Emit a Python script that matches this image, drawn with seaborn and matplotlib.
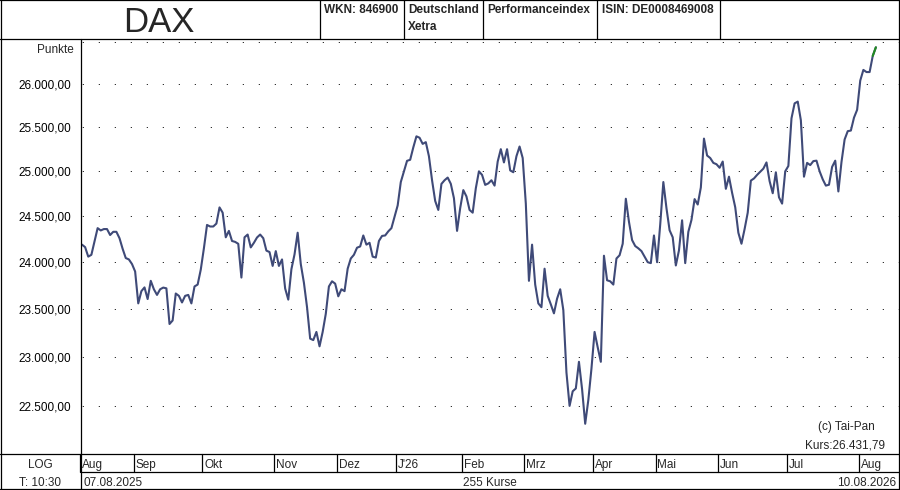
import numpy as np
import pandas as pd
import seaborn as sns
import matplotlib.pyplot as plt
from matplotlib.lines import Line2D
from matplotlib.ticker import FixedLocator, FuncFormatter, NullLocator, NullFormatter
from matplotlib.transforms import blended_transform_factory, offset_copy

# DAX Schlusskurse, 255 Handelstage (07.08.2025 - 10.08.2026)
kurse = [
    24190, 24163, 24060, 24080, 24225, 24370, 24345, 24360, 24360, 24295,
    24330, 24330, 24260, 24145, 24045, 24030, 23980, 23900, 23560, 23690,
    23730, 23606, 23800, 23710, 23650, 23710, 23728, 23720, 23343, 23380,
    23665, 23640, 23570, 23640, 23650, 23560, 23740, 23760, 23920, 24150,
    24405, 24388, 24388, 24420, 24598, 24540, 24270, 24340, 24230, 24220,
    24199, 23835, 24270, 24300, 24160, 24210, 24268, 24300, 24260, 24125,
    24110, 23960, 24120, 23960, 24030, 23718, 23600, 23925, 24085, 24320,
    23980, 23780, 23520, 23190, 23175, 23260, 23110, 23260, 23450, 23740,
    23795, 23770, 23635, 23710, 23690, 23930, 24040, 24080, 24157, 24170,
    24290, 24190, 24210, 24060, 24050, 24230, 24285, 24290, 24335, 24370,
    24495, 24620, 24880, 25000, 25118, 25130, 25270, 25396, 25380, 25310,
    25330, 25170, 24900, 24670, 24570, 24859, 24900, 24930, 24860, 24700,
    24340, 24590, 24790, 24720, 24570, 24540, 24810, 25000, 24960, 24848,
    24865, 24900, 24840, 25110, 25250, 25100, 25250, 25010, 24990, 25170,
    25280, 25150, 24640, 23800, 24190, 23760, 23560, 23520, 23930, 23640,
    23550, 23455, 23610, 23710, 23490, 22840, 22500, 22648, 22677, 22950,
    22670, 22320, 22560, 22880, 23260, 23100, 22950, 24070, 23806, 23795,
    23760, 24040, 24075, 24200, 24694, 24440, 24240, 24175, 24150, 24120,
    24060, 24000, 23990, 24290, 24000, 24410, 24880, 24590, 24347, 24270,
    23965, 24128, 24456, 23990, 24330, 24460, 24690, 24630, 24820, 25370,
    25178, 25150, 25095, 25080, 25040, 25110, 24804, 24940, 24760, 24600,
    24320, 24200, 24360, 24540, 24896, 24920, 24960, 24995, 25030, 25100,
    24890, 24755, 24989, 24710, 24640, 25000, 25060, 25602, 25775, 25795,
    25580, 24940, 25095, 25070, 25115, 25120, 25000, 24910, 24840, 24850,
    25050, 25120, 24775, 25105, 25360, 25455, 25462, 25610, 25700, 26040,
    26165, 26140, 26140, 26330, 26431.79,
]
feiertage = ["2025-12-24", "2025-12-25", "2025-12-26", "2025-12-31",
             "2026-01-01", "2026-04-03", "2026-04-06", "2026-05-01"]
monate = ["Aug", "Sep", "Okt", "Nov", "Dez", "J'26", "Feb", "Mrz",
          "Apr", "Mai", "Jun", "Jul", "Aug"]
y_ticks = [22500, 23000, 23500, 24000, 24500, 25000, 25500, 26000, 26500]

tage = pd.bdate_range("2025-08-07", "2026-08-10")
tage = tage[~tage.isin(pd.to_datetime(feiertage))]
df = pd.DataFrame({"datum": tage, "kurs": kurse})
df["i"] = np.arange(len(df))
starts = df.groupby([df.datum.dt.year, df.datum.dt.month])["i"].min().values

sns.set_style("white")
plt.rcParams["font.family"] = ["Liberation Sans", "DejaVu Sans"]

W, H = 900, 490
fig = plt.figure(figsize=(9, 4.9), dpi=100)


def fx(x):
    return x / W


def fy(y):
    return 1 - y / H


ax = fig.add_axes([fx(81), fy(454), (899 - 81) / W, (454 - 40) / H])
sns.lineplot(data=df, x="i", y="kurs", ax=ax, color="#3F4A78", lw=1.5)
ax.plot(df["i"].iloc[-2:], df["kurs"].iloc[-2:], color="#228B22", lw=1.5)
ax.set_yscale("log")
ax.set_xlim(-0.32, 261.4)
ax.set_ylim(22019, 26519)
ax.set_xlabel("")
ax.set_ylabel("")
ax.set_xticks([])
ax.yaxis.set_major_locator(FixedLocator(y_ticks))
ax.yaxis.set_minor_locator(NullLocator())
ax.yaxis.set_minor_formatter(NullFormatter())
ax.yaxis.set_major_formatter(FuncFormatter(
    lambda v, p: "" if v > 26000 else
    f"{v:,.2f}".replace(",", "X").replace(".", ",").replace("X", ".")))
ax.tick_params(axis="y", direction="out", length=3, width=0.8, pad=4,
               labelsize=8.5, colors="black")
ax.grid(axis="y", color="black", lw=0.72, ls=(14.7, (1, 15)))
for s in ax.spines.values():
    s.set_visible(False)

# Rahmen
lw = 0.9
def line(x0, y0, x1, y1):
    fig.add_artist(Line2D([fx(x0), fx(x1)], [fy(y0), fy(y1)], color="black", lw=lw))

line(0, 0.5, 900, 0.5)
line(0, 489, 900, 489)
line(0.5, 0, 0.5, 490)
line(899, 0, 899, 490)
line(0, 39.5, 900, 39.5)
line(0, 454, 900, 454)
line(81, 471.7, 900, 471.7)
line(81, 39.5, 81, 490)
for xs in [320.3, 404.3, 483.3, 597.3, 720.3]:
    line(xs, 0, xs, 39.5)

# Kopfzeile
fig.text(fx(159), fy(32), "DAX", fontsize=25, ha="center", va="baseline")
hk = dict(fontsize=8.5, fontweight="bold", va="baseline")
fig.text(fx(324.5), fy(12.7), "WKN: 846900", **hk)
fig.text(fx(408), fy(12.7), "Deutschland", **hk)
fig.text(fx(408), fy(30), "Xetra", **hk)
fig.text(fx(487.3), fy(12.7), "Performanceindex", **hk)
fig.text(fx(602), fy(12.7), "ISIN: DE0008469008", **hk)

fig.text(fx(73.5), fy(53.3), "Punkte", fontsize=8.5, ha="right", va="baseline")
fig.text(fx(875), fy(430), "(c) Tai-Pan", fontsize=8.5, ha="right", va="baseline")
fig.text(fx(885.5), fy(448.3), "Kurs:26.431,79", fontsize=8.5, ha="right", va="baseline")

# Monatsleiste
trans = blended_transform_factory(ax.transData, fig.transFigure)
tlab = offset_copy(trans, fig=fig, x=1.8, y=0, units="dots")
for s, lab in zip(starts, monate):
    ax.plot([s - 0.5, s - 0.5], [fy(454), fy(471.7)], transform=trans,
            color="black", lw=lw, clip_on=False)
    ax.text(s - 0.5, fy(468.3), lab, transform=tlab, fontsize=8.5,
            ha="left", va="baseline", clip_on=False)

fig.text(fx(40), fy(468.3), "LOG", fontsize=8.5, ha="center", va="baseline")
fig.text(fx(40), fy(485.7), "T: 10:30", fontsize=8.5, ha="center", va="baseline")
fig.text(fx(83.5), fy(485.7), df.datum.iloc[0].strftime("%d.%m.%Y"),
         fontsize=8.5, va="baseline")
fig.text(fx(490), fy(485.7), f"{len(df)} Kurse", fontsize=8.5,
         ha="center", va="baseline")
fig.text(fx(896.5), fy(485.7), df.datum.iloc[-1].strftime("%d.%m.%Y"),
         fontsize=8.5, ha="right", va="baseline")

fig.savefig("out.png", dpi=100)
